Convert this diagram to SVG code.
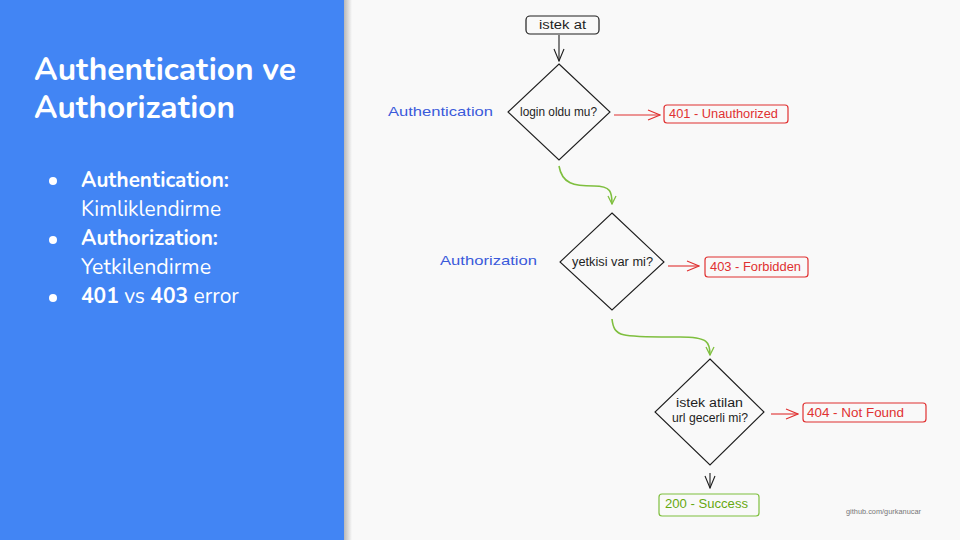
<svg xmlns="http://www.w3.org/2000/svg" width="960" height="540" viewBox="0 0 960 540">
<defs>
<linearGradient id="shadow" x1="0" y1="0" x2="1" y2="0">
<stop offset="0" stop-color="#b8b8b8"/>
<stop offset="1" stop-color="#f9f9f9"/>
</linearGradient>
<marker id="ahDark" viewBox="0 0 14 12" refX="13" refY="6" markerWidth="14" markerHeight="12" markerUnits="userSpaceOnUse" orient="auto">
<path d="M1,1 L13,6 L1,11" fill="none" stroke="#1e1e1e" stroke-width="1.1"/>
</marker>
<marker id="ahRed" viewBox="0 0 14 12" refX="13" refY="6" markerWidth="14" markerHeight="12" markerUnits="userSpaceOnUse" orient="auto">
<path d="M1,1 L13,6 L1,11" fill="none" stroke="#e03131" stroke-width="1.1"/>
</marker>
<marker id="ahGreen" viewBox="0 0 10 10" refX="9" refY="5" markerWidth="10" markerHeight="10" markerUnits="userSpaceOnUse" orient="auto">
<path d="M1,1 L9,5 L1,9" fill="none" stroke="#7fbf3f" stroke-width="1.3"/>
</marker>
</defs>
<style>
.hand{font-family:"Liberation Sans","DejaVu Sans",sans-serif;font-size:12px;}
.dark{fill:#1e1e1e;}
.red{fill:#e03131;}
.green{fill:#66a80f;}
.blue{fill:#3b5bdb;font-size:13px;}
.box{fill:none;stroke-width:1.2;}
.dia{fill:none;stroke:#1e1e1e;stroke-width:1.1;}
.side{font-family:"Nunito","Lato","Open Sans",sans-serif;fill:#ffffff;}
.edge{fill:none;stroke-width:1.1;}
.gedge{fill:none;stroke:#7fbf3f;stroke-width:1.6;}
</style>
<rect x="0" y="0" width="960" height="540" fill="#f9f9f9"/>
<rect x="344" y="0" width="8" height="540" fill="url(#shadow)"/>
<rect x="0" y="0" width="344" height="540" fill="#4285f4"/>

<g id="sidebar">
<text class="side" x="34" y="80" font-size="31" font-weight="bold" textLength="262" lengthAdjust="spacingAndGlyphs">Authentication ve</text>
<text class="side" x="34" y="118" font-size="31" font-weight="bold" textLength="201" lengthAdjust="spacingAndGlyphs">Authorization</text>
<circle cx="53" cy="181" r="4" fill="#ffffff"/>
<circle cx="53" cy="240" r="4" fill="#ffffff"/>
<circle cx="53" cy="298" r="4" fill="#ffffff"/>
<text class="side" x="81" y="187" font-size="21" font-weight="bold" textLength="148" lengthAdjust="spacingAndGlyphs">Authentication:</text>
<text class="side" x="81" y="216" font-size="21" textLength="140" lengthAdjust="spacingAndGlyphs">Kimliklendirme</text>
<text class="side" x="81" y="245" font-size="21" font-weight="bold" textLength="137" lengthAdjust="spacingAndGlyphs">Authorization:</text>
<text class="side" x="81" y="274" font-size="21" textLength="130" lengthAdjust="spacingAndGlyphs">Yetkilendirme</text>
<text class="side" x="81" y="303" font-size="21"><tspan font-weight="bold">401</tspan> vs <tspan font-weight="bold">403</tspan> error</text>
</g>

<g id="connectors">
<path class="edge" d="M559,35 L559,61" stroke="#1e1e1e" marker-end="url(#ahDark)"/>
<path class="edge" d="M614,115 L660,115" stroke="#e03131" marker-end="url(#ahRed)"/>
<path class="gedge" d="M559,166 C562,184 574,186 594,186 C611,186 612,192 612,204" marker-end="url(#ahGreen)"/>
<path class="edge" d="M668,266 L699,266" stroke="#e03131" marker-end="url(#ahRed)"/>
<path class="gedge" d="M612,319 C614,338 622,337 680,337 C708,337 710,342 710,355" marker-end="url(#ahGreen)"/>
<path class="edge" d="M771,414 L798,414" stroke="#e03131" marker-end="url(#ahRed)"/>
<path class="edge" d="M710,473 L710,488" stroke="#1e1e1e" marker-end="url(#ahDark)"/>
</g>

<g id="start">
<rect class="box" x="526" y="16" width="73" height="18" rx="4" stroke="#1e1e1e"/>
<text class="hand dark" x="562.5" y="29" text-anchor="middle" textLength="47" lengthAdjust="spacingAndGlyphs">istek at</text>
</g>

<g id="auth-label">
<text class="hand blue" x="388" y="116" textLength="105" lengthAdjust="spacingAndGlyphs">Authentication</text>
</g>

<g id="login">
<polygon class="dia" points="559,64 610,112 559,160 508,112"/>
<text class="hand dark" x="558.5" y="116" text-anchor="middle" textLength="77" lengthAdjust="spacingAndGlyphs">login oldu mu?</text>
</g>

<g id="e401">
<rect class="box" x="664" y="105" width="124" height="18" rx="3" stroke="#e03131"/>
<text class="hand red" x="723.5" y="118" text-anchor="middle" textLength="109" lengthAdjust="spacingAndGlyphs">401 - Unauthorized</text>
</g>

<g id="authz-label">
<text class="hand blue" x="440" y="265" textLength="97" lengthAdjust="spacingAndGlyphs">Authorization</text>
</g>

<g id="perm">
<polygon class="dia" points="612,213 664,262 612,310 560,262"/>
<text class="hand dark" x="612.5" y="266" text-anchor="middle" textLength="81" lengthAdjust="spacingAndGlyphs">yetkisi var mi?</text>
</g>

<g id="e403">
<rect class="box" x="705" y="257" width="103" height="20" rx="3" stroke="#e03131"/>
<text class="hand red" x="755.5" y="271" text-anchor="middle" textLength="91" lengthAdjust="spacingAndGlyphs">403 - Forbidden</text>
</g>

<g id="url">
<polygon class="dia" points="710,359 764,412 710,465 655,412"/>
<text class="hand dark" x="709.5" y="407" text-anchor="middle" textLength="67" lengthAdjust="spacingAndGlyphs">istek atilan</text>
<text class="hand dark" x="710" y="422" text-anchor="middle" textLength="76" lengthAdjust="spacingAndGlyphs">url gecerli mi?</text>
</g>

<g id="e404">
<rect class="box" x="803" y="403" width="123" height="19" rx="3" stroke="#e03131"/>
<text class="hand red" x="855.5" y="417" text-anchor="middle" textLength="97" lengthAdjust="spacingAndGlyphs">404 - Not Found</text>
</g>

<g id="s200">
<rect class="box" x="659" y="494" width="100" height="22" rx="3" stroke="#7fbf3f"/>
<text class="hand green" x="706.5" y="508" text-anchor="middle" textLength="83" lengthAdjust="spacingAndGlyphs">200 - Success</text>
</g>

<text x="846" y="514" font-family="Liberation Sans, Arial, sans-serif" font-size="8" fill="#777777" textLength="75" lengthAdjust="spacingAndGlyphs">github.com/gurkanucar</text>
</svg>
